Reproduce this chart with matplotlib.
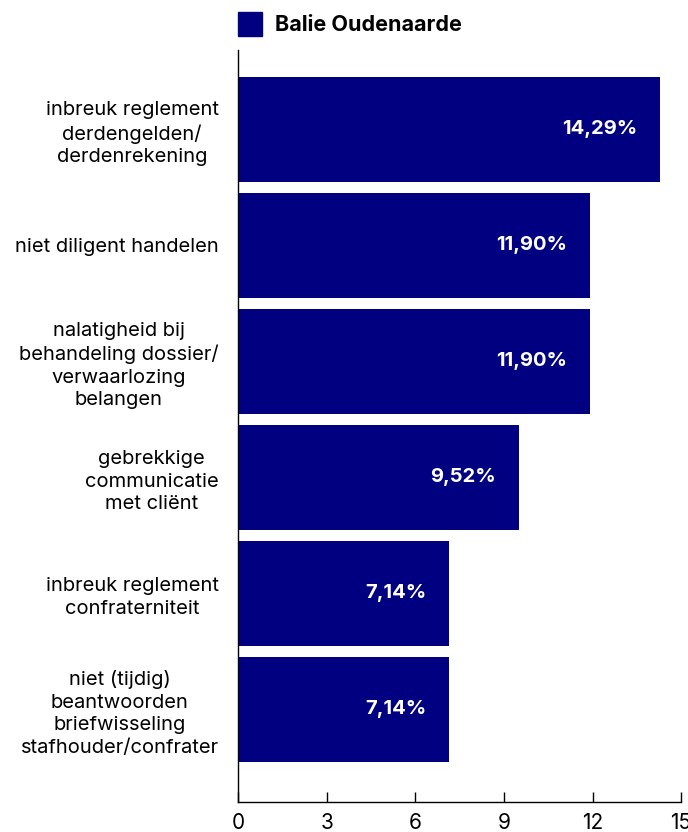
import matplotlib

matplotlib.use("Agg")
import matplotlib.pyplot as plt
from matplotlib.patches import Rectangle

plt.rcParams["font.family"] = ["Inter", "DejaVu Sans"]

# --- data -----------------------------------------------------------------------
categories = [
    "inbreuk reglement\nderdengelden/\nderdenrekening",
    "niet diligent handelen",
    "nalatigheid bij\nbehandeling dossier/\nverwaarlozing\nbelangen",
    "gebrekkige\ncommunicatie\nmet cliënt",
    "inbreuk reglement\nconfraterniteit",
    "niet (tijdig)\nbeantwoorden\nbriefwisseling\nstafhouder/confrater",
]
values = [14.29, 11.90, 11.90, 9.52, 7.14, 7.14]
value_labels = ["14,29%", "11,90%", "11,90%", "9,52%", "7,14%", "7,14%"]
xticks = [0, 3, 6, 9, 12, 15]
series_name = "Balie Oudenaarde"

NAVY = "#000080"

fig = plt.figure(figsize=(6.88, 8.32), dpi=100)
ax = fig.add_axes([0.346, 0.036, 0.644, 0.904])

ypos = list(range(len(values)))
ax.barh(ypos, values, height=0.905, color=NAVY)

for y, v, lab in zip(ypos, values, value_labels):
    ax.annotate(lab, (v, y), xytext=(-16.5, 0), textcoords="offset points",
                ha="right", va="center", color="white", fontsize=14.5,
                fontweight="bold")

ax.set_ylim(5.80, -0.685)
ax.set_xlim(0, 15)
ax.set_xticks(xticks)
ax.set_xticklabels([str(t) for t in xticks], fontsize=15)
ax.set_yticks(ypos)
ax.set_yticklabels(categories, fontsize=14.5, multialignment="center",
                   linespacing=1.32)
ax.tick_params(axis="y", length=0, pad=14)
ax.tick_params(axis="x", direction="in", length=7, width=1, pad=8)

for s in ("top", "right"):
    ax.spines[s].set_visible(False)
ax.spines["left"].set_linewidth(1)
ax.spines["bottom"].set_linewidth(1)

# legend
fig.patches.append(Rectangle((238 / 688, 1 - 36 / 832), 24 / 688, 24 / 832,
                             transform=fig.transFigure, color=NAVY))
fig.text(275 / 688, 1 - 25 / 832, series_name, fontsize=15.5, fontweight="bold",
         va="center", ha="left")

fig.savefig("out.png", dpi=100)
